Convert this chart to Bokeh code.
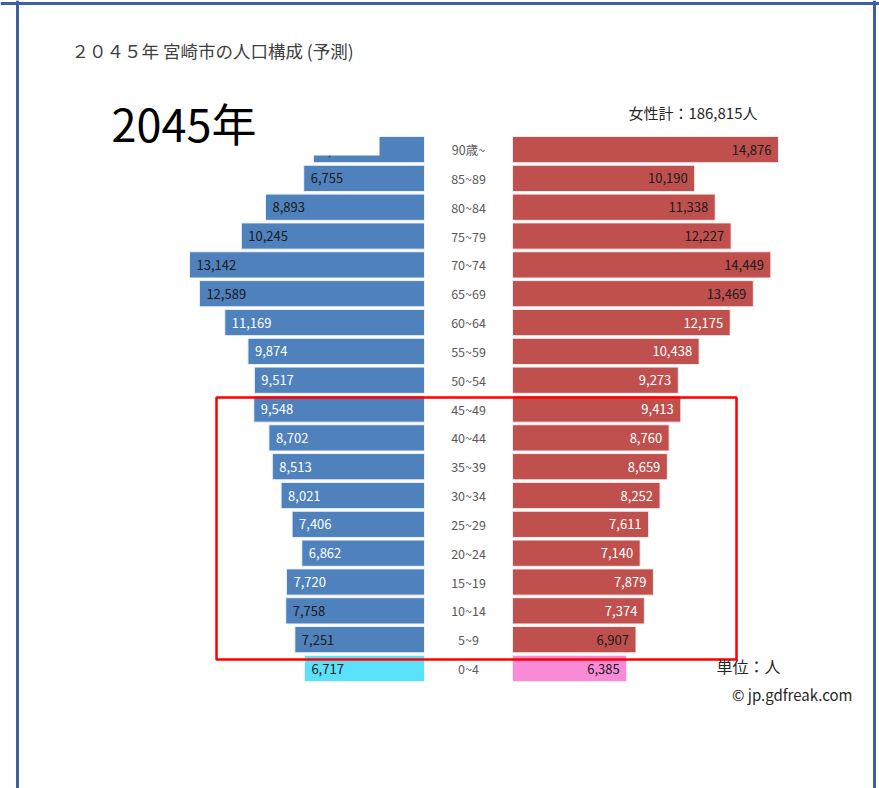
from bokeh.plotting import figure
from bokeh.models import Range1d, Label, Span, ColumnDataSource
from bokeh.embed import file_html
from bokeh.resources import INLINE
from bokeh.core.properties import value

# ---- data (top row -> bottom row) ----
ages = ["90歳~", "85~89", "80~84", "75~79", "70~74", "65~69", "60~64", "55~59",
        "50~54", "45~49", "40~44", "35~39", "30~34", "25~29", "20~24", "15~19",
        "10~14", "5~9", "0~4"]
male = [6213, 6755, 8893, 10245, 13142, 12589, 11169, 9874, 9517, 9548, 8702,
        8513, 8021, 7406, 6862, 7720, 7758, 7251, 6717]
female = [14876, 10190, 11338, 12227, 14449, 13469, 12175, 10438, 9273, 9413,
          8760, 8659, 8252, 7611, 7140, 7879, 7374, 6907, 6385]
female_total = "186,815"

# ---- styling ----
MALE_C = "#4F81BD"
FEMALE_C = "#C0504D"
MALE_Y = "#5CE1FA"
FEMALE_Y = "#F98BD6"
DARK = "#1a1a1a"
WHITE = "#FFFFFF"
male_text_c = [DARK] * 6 + [WHITE] * 10 + [DARK] * 3
female_text_c = [DARK] * 6 + [WHITE] * 11 + [DARK] * 2
FONT = "Noto Sans CJK JP"

n = len(ages)
W, H = 879, 788
PX = 17.88 / 1000.0     # pixels per person
ROW = 28.83             # pixels per row
CX = 468                # page x of the centre
CY0 = 668               # page y of the bottom row centre


def xp(page_x):
    return (page_x - CX) / PX


def yp(page_y):
    return (CY0 - page_y) / ROW


G = 44 / PX  # half gap between the two sides

ys = [n - 1 - i for i in range(n)]
src = ColumnDataSource(dict(
    y=ys,
    age=ages,
    m_left=[-(m + G) for m in male],
    m_right=[-G] * n,
    f_left=[G] * n,
    f_right=[f + G for f in female],
    m_lab=[f"{m:,}" for m in male],
    f_lab=[f"{f:,}" for f in female],
    m_col=[MALE_C] * (n - 1) + [MALE_Y],
    f_col=[FEMALE_C] * (n - 1) + [FEMALE_Y],
    m_tc=male_text_c,
    f_tc=female_text_c,
    zero=[0] * n,
))

p = figure(width=W, height=H,
           x_range=Range1d(xp(0), xp(W)),
           y_range=Range1d(yp(H), yp(0)),
           x_axis_type=None, y_axis_type=None,
           output_backend="svg", toolbar_location=None,
           min_border_left=0, min_border_right=0,
           min_border_top=0, min_border_bottom=0)
p.grid.visible = False
p.outline_line_color = None
p.background_fill_color = "white"

p.hbar(y="y", left="m_left", right="m_right", height=0.91, fill_color="m_col",
       line_color="#EEF2F8", line_width=1, source=src)
p.hbar(y="y", left="f_left", right="f_right", height=0.91, fill_color="f_col",
       line_color="#F6ECEC", line_width=1, source=src)

p.text(x="m_left", y="y", text="m_lab", x_offset=7, text_align="left",
       text_baseline="middle", text_font=value(FONT), text_font_size="13px",
       text_color="m_tc", source=src)
p.text(x="f_right", y="y", text="f_lab", x_offset=-7, text_align="right",
       text_baseline="middle", text_font=value(FONT), text_font_size="13px",
       text_color="f_tc", source=src)
p.text(x="zero", y="y", text="age", text_align="center", text_baseline="middle",
       text_font=value(FONT), text_font_size="12.5px", text_color="#595959",
       source=src)

# white background box of the big year label (covers part of the top bar)
p.quad(left=[xp(90)], right=[xp(379)], top=[yp(80)], bottom=[yp(155)],
       fill_color="white", line_color=None)

# red highlight rectangle
p.quad(left=[xp(216)], right=[xp(736)], top=[yp(397)], bottom=[yp(659)],
       fill_color=None, line_color="#FF0000", line_width=2.5)

# frame border
BORDER = "#3F5F9E"
p.add_layout(Span(location=xp(17), dimension="height", line_color=BORDER, line_width=3))
p.add_layout(Span(location=xp(874), dimension="height", line_color=BORDER, line_width=3))
p.add_layout(Span(location=yp(3), dimension="width", line_color=BORDER, line_width=3))

# texts
p.add_layout(Label(x=xp(71), y=yp(50), text="２０４５年 宮崎市の人口構成 (予測)",
                   text_font=FONT, text_font_size="17.5px", text_color="#404040",
                   text_baseline="middle", text_align="left"))
p.add_layout(Label(x=xp(111), y=yp(122), text="2045年",
                   text_font=FONT, text_font_size="45px", text_color="#000000",
                   text_baseline="middle", text_align="left"))
p.add_layout(Label(x=xp(757), y=yp(112), text="女性計：" + female_total + "人",
                   text_font=FONT, text_font_size="15px", text_color="#262626",
                   text_baseline="middle", text_align="right"))
p.add_layout(Label(x=xp(716), y=yp(665), text="単位：人",
                   text_font=FONT, text_font_size="16px", text_color="#262626",
                   text_baseline="middle", text_align="left"))
p.add_layout(Label(x=xp(852), y=yp(694), text="© jp.gdfreak.com",
                   text_font=FONT, text_font_size="15px", text_color="#262626",
                   text_baseline="middle", text_align="right"))

open("out.html", "w").write(file_html(p, INLINE))
